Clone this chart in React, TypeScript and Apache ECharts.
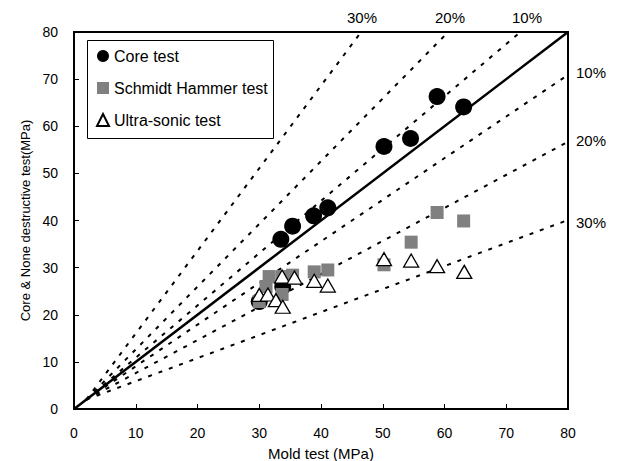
import React, { useEffect, useRef } from "react";
import * as echarts from "echarts";

const xTicks = [0, 10, 20, 30, 40, 50, 60, 70, 80];
const yTicks = [0, 10, 20, 30, 40, 50, 60, 70, 80];

const coreTest: [number, number][] = [
  [30.0, 22.8], [33.5, 36.0], [33.8, 26.0], [35.4, 38.8], [38.8, 41.0],
  [41.1, 42.7], [50.2, 55.7], [54.5, 57.4], [58.8, 66.3], [63.1, 64.1],
];
const schmidtTest: [number, number][] = [
  [30.0, 22.8], [31.1, 26.0], [31.6, 28.1], [33.7, 28.1], [33.7, 24.3],
  [35.4, 28.4], [38.9, 29.1], [41.1, 29.5], [50.2, 30.6], [54.6, 35.4],
  [58.8, 41.7], [63.1, 39.9],
];
const ultraTest: [number, number][] = [
  [30.0, 24.2], [31.4, 24.3], [32.7, 23.1], [33.7, 28.1], [33.8, 21.7],
  [35.7, 27.9], [38.9, 27.2], [41.1, 26.2], [50.2, 31.8], [54.6, 31.5],
  [58.8, 30.3], [63.2, 29.1],
];

const equalityLine: [number, number][] = [[0, 0], [80, 80]];
const boundLines: { name: string; pts: [number, number][] }[] = [
  { name: "+30%", pts: [[2, 2], [46.5, 80]] },
  { name: "+20%", pts: [[2, 2], [60.6, 80]] },
  { name: "+10%", pts: [[2, 2], [72.3, 80]] },
  { name: "-10%", pts: [[2, 2], [80, 70.9]] },
  { name: "-20%", pts: [[2, 2], [80, 56.7]] },
  { name: "-30%", pts: [[2, 2], [80, 40.1]] },
];
const topLabels = ["30%", "20%", "10%"];
const rightLabels = ["10%", "20%", "30%"];

const FONT = "'Liberation Sans', Arial, sans-serif";

export default function App() {
  const ref = useRef<HTMLDivElement>(null);
  useEffect(() => {
    if (!ref.current) return;
    const chart = echarts.init(ref.current, null, { renderer: "svg" });
    const gridL = 74, gridT = 32, gridW = 494, gridH = 377;
    const topX = [362, 450, 527];
    const rightY = [72, 140, 222];
    const option: any = {
      animation: false,
      backgroundColor: "#fff",
      textStyle: { fontFamily: FONT },
      grid: {
        left: gridL, top: gridT, width: gridW, height: gridH,
        containLabel: false, outerBoundsMode: "none",
        show: true, borderColor: "#000", borderWidth: 2, backgroundColor: "transparent",
      },
      legend: {
        orient: "vertical",
        left: 96,
        top: 48,
        padding: 0,
        itemGap: 16,
        itemWidth: 12,
        itemHeight: 12,
        textStyle: { fontSize: 16, color: "#000", fontFamily: FONT },
        data: [
          { name: "Core test", icon: "circle" },
          { name: "Schmidt Hammer test", icon: "rect" },
          { name: "Ultra-sonic test", icon: "triangle" },
        ],
        z: 10,
      },
      graphic: [
        {
          type: "rect", z: 9, left: 87, top: 40,
          shape: { width: 186, height: 98 },
          style: { fill: "#fff", stroke: "#000", lineWidth: 1 },
        },
        ...topLabels.map((t, i) => ({
          type: "text", x: topX[i], y: 17, z: 10,
          style: { text: t, fill: "#000", font: `15px ${FONT}`, align: "center", verticalAlign: "middle" },
        })),
        ...rightLabels.map((t, i) => ({
          type: "text", x: 576, y: rightY[i], z: 10,
          style: { text: t, fill: "#000", font: `15px ${FONT}`, align: "left", verticalAlign: "middle" },
        })),
      ],
      xAxis: {
        type: "value", min: xTicks[0], max: xTicks[xTicks.length - 1], interval: 10,
        name: "Mold test (MPa)", nameLocation: "middle", nameGap: 37,
        nameTextStyle: { fontSize: 15, color: "#000", fontFamily: FONT },
        axisLine: { lineStyle: { color: "#000", width: 2 } },
        axisTick: { inside: true, length: 5, lineStyle: { color: "#000", width: 1 } },
        axisLabel: { fontSize: 14, color: "#000", margin: 17, fontFamily: FONT },
        splitLine: { show: false },
      },
      yAxis: {
        type: "value", min: yTicks[0], max: yTicks[yTicks.length - 1], interval: 10,
        name: "Core & None destructive test(MPa)", nameLocation: "middle", nameGap: 33,
        nameTextStyle: { fontSize: 13, color: "#000", fontFamily: FONT },
        axisLine: { lineStyle: { color: "#000", width: 2 } },
        axisTick: { inside: true, length: 5, lineStyle: { color: "#000", width: 1 } },
        axisLabel: { fontSize: 14, color: "#000", margin: 16, fontFamily: FONT },
        splitLine: { show: false },
      },
      series: [
        {
          name: "equality", type: "line", data: equalityLine, symbol: "none", silent: true,
          lineStyle: { color: "#000", width: 2.5 }, z: 1,
        },
        ...boundLines.map((b) => ({
          name: b.name, type: "line", data: b.pts, symbol: "none", silent: true,
          lineStyle: { color: "#000", width: 2, type: [4, 7] }, z: 1,
        })),
        {
          name: "Core test", type: "scatter", data: coreTest, symbol: "circle", symbolSize: 17,
          itemStyle: { color: "#000", opacity: 1 }, z: 3,
        },
        {
          name: "Schmidt Hammer test", type: "scatter", data: schmidtTest, symbol: "rect", symbolSize: 13,
          itemStyle: { color: "#808080", opacity: 1 }, z: 4,
        },
        {
          name: "Ultra-sonic test", type: "scatter", data: ultraTest, symbol: "triangle", symbolSize: [15, 13],
          itemStyle: { color: "#fff", borderColor: "#000", borderWidth: 1.3, opacity: 1 }, z: 5,
        },
      ],
    };
    chart.setOption(option);
    return () => chart.dispose();
  }, []);
  return (
    <div
      ref={ref}
      style={{ position: "absolute", left: 0, top: 0, width: 618, height: 461 }}
    />
  );
}
